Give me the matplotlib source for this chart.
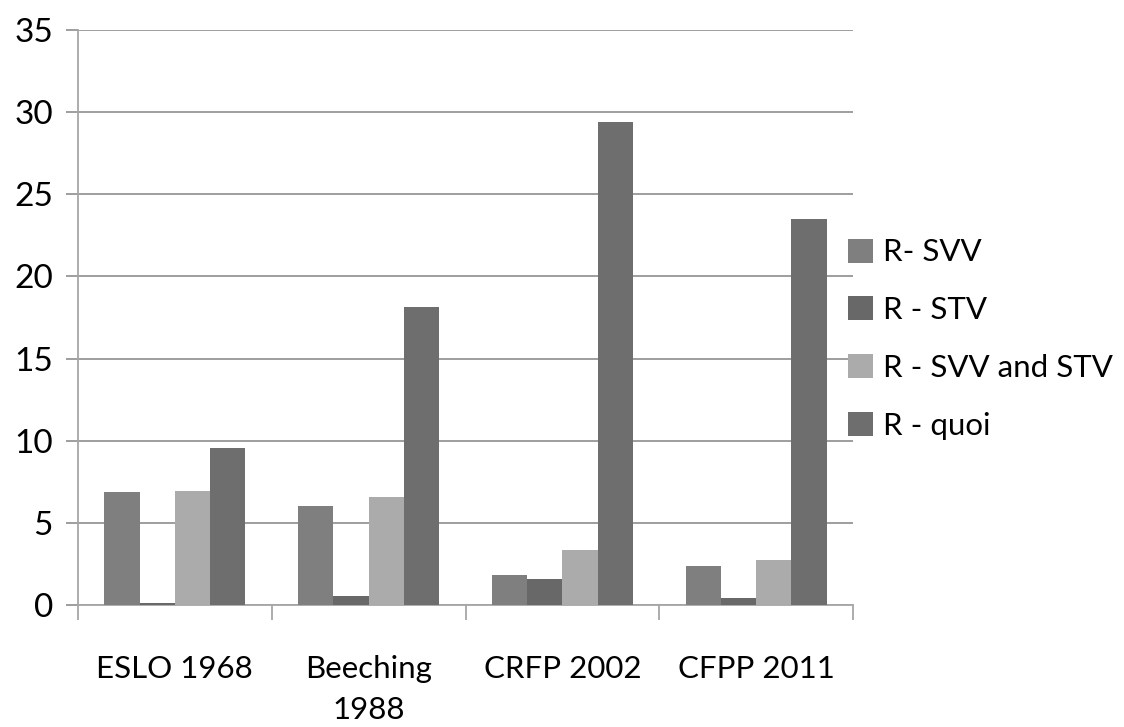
import numpy as np
import matplotlib.pyplot as plt

plt.rcParams['font.family'] = ['Lato', 'DejaVu Sans']

categories = ['ESLO 1968', 'Beeching\n1988', 'CRFP 2002', 'CFPP 2011']
series = ['R- SVV', 'R - STV', 'R - SVV and STV', 'R - quoi']
svv = [6.89, 6.02, 1.84, 2.39]
stv = [0.14, 0.57, 1.58, 0.43]
svv_stv = [6.96, 6.57, 3.37, 2.75]
quoi = [9.57, 18.15, 29.42, 23.5]
colors = ['#7f7f7f', '#686868', '#ababab', '#6e6e6e']

fig = plt.figure(figsize=(11.24, 7.27), dpi=100)
ax = fig.add_axes([78 / 1124, 122 / 727, 775 / 1124, 575 / 727])

x = np.arange(len(categories))
w = 1 / 5.5
for i, (vals, name) in enumerate(zip([svv, stv, svv_stv, quoi], series)):
    ax.bar(x + (i - 1.5) * w, vals, width=w, color=colors[i], label=name, zorder=3)

ax.set_xlim(-0.5, len(categories) - 0.5)
ax.set_ylim(0, 35)
ax.set_yticks(range(0, 36, 5))
ax.grid(axis='y', color='#969696', linewidth=1.3, zorder=0)

ax.set_xticks(x)
ax.set_xticklabels(categories, fontsize=22.5, linespacing=1.55)
ax.set_xticks(np.arange(-0.5, len(categories)), minor=True)
ax.tick_params(axis='x', which='major', length=0, pad=36)
ax.tick_params(axis='x', which='minor', length=11, color='#a6a6a6', width=1.3)
ax.tick_params(axis='y', length=9, color='#969696', width=1.3, labelsize=24, pad=9)

for s in ['top', 'right']:
    ax.spines[s].set_visible(False)
for s in ['left', 'bottom']:
    ax.spines[s].set_color('#a6a6a6')
    ax.spines[s].set_linewidth(1.3)

fig.legend(loc='center left', bbox_to_anchor=(835 / 1124, 388 / 727), frameon=False,
           fontsize=22.5, handlelength=0.8, handleheight=0.8, labelspacing=0.95,
           handletextpad=0.35, borderaxespad=0)

fig.savefig('out.png', dpi=100)
